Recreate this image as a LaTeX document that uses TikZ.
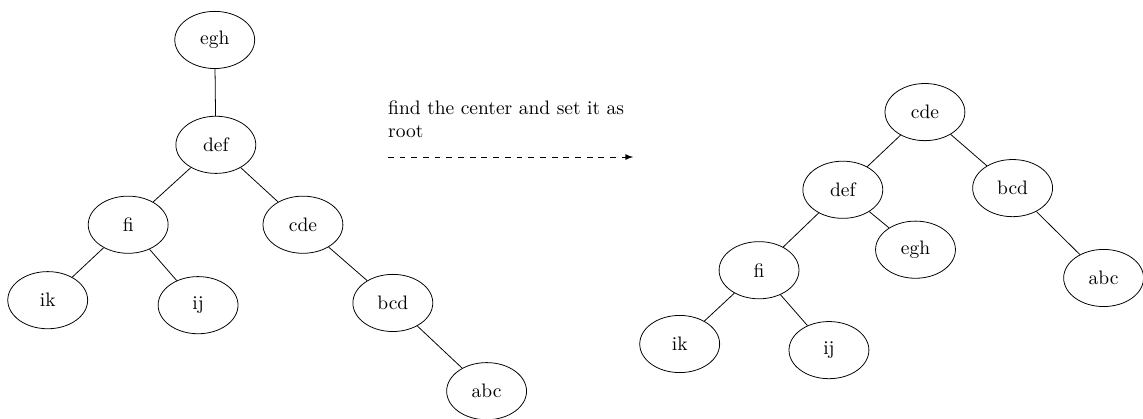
\documentclass[tikz,border=0pt]{standalone}
\usetikzlibrary{shapes,arrows,positioning}

\begin{document}
\begin{tikzpicture}[vertex/.style={ellipse,draw,minimum width=1.44cm,minimum height=1.03cm}]
\useasboundingbox (0,0) rectangle (20.6,7.55);

% tree before
\node[vertex] (legh) at (3.87,6.83) {egh};
\node[vertex] (ldef) at (3.89,4.94) {def};
\node[vertex] (lfi) at (2.31,3.50) {fi};
\node[vertex] (lcde) at (5.46,3.50) {cde};
\node[vertex] (lik) at (0.86,2.14) {ik};
\node[vertex] (lij) at (3.57,2.05) {ij};
\node[vertex] (lbcd) at (7.08,2.09) {bcd};
\node[vertex] (labc) at (8.77,0.50) {abc};

\foreach \aa/\bb in {legh/ldef,ldef/lfi,ldef/lcde,lfi/lik,lfi/lij,lcde/lbcd,lbcd/labc}{
\draw (\aa) -- (\bb);
}

% the step
\draw [dashed,-{latex[scale=1.5]}] (6.99,4.72) coordinate (s) -- (11.41,4.72) coordinate (e);
\node[above right=0.34cm and 0cm of s,anchor=south west,inner sep=0pt,text width=4.6cm,align=left] (note) {find the center and set it as root};

% tree after
\node[vertex] (rcde) at (16.67,5.53) {cde};
\node[vertex] (rdef) at (15.19,4.13) {def};
\node[vertex] (rbcd) at (18.25,4.16) {bcd};
\node[vertex] (regh) at (16.50,3.05) {egh};
\node[vertex] (rfi) at (13.68,2.68) {fi};
\node[vertex] (rabc) at (19.89,2.54) {abc};
\node[vertex] (rik) at (12.25,1.35) {ik};
\node[vertex] (rij) at (14.94,1.24) {ij};

\foreach \aa/\bb in {rcde/rdef,rcde/rbcd,rdef/regh,rdef/rfi,rbcd/rabc,rfi/rik,rfi/rij}{
\draw (\aa) -- (\bb);
}

\end{tikzpicture}
\end{document}
